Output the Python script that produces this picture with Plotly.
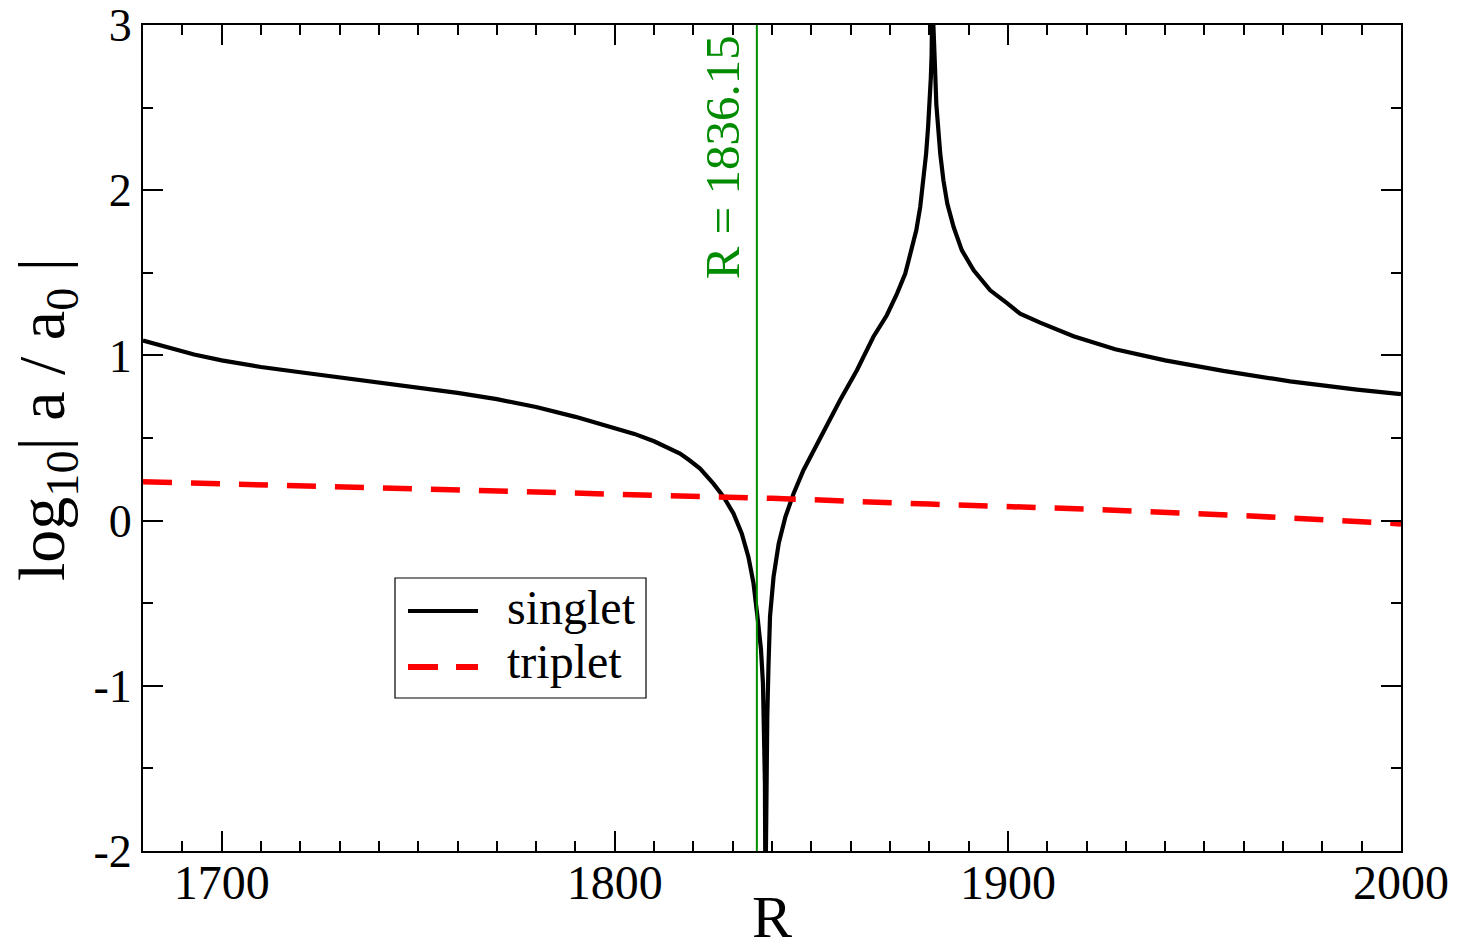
import plotly.graph_objects as go

# ---- data ----
singlet_R = [1680, 1686, 1693, 1700, 1710, 1720, 1730, 1740, 1750, 1760,
             1770, 1780, 1790, 1800, 1805, 1810, 1813, 1816.6, 1819, 1821.7,
             1825.1, 1827.7, 1830.2, 1832.3, 1834.0, 1835.3, 1836.3, 1837.2, 1837.7, 1838.0,
             1838.2, 1838.33, 1838.4, 1838.5, 1838.8, 1839.1, 1839.5, 1840.4, 1841.7, 1843.4,
             1845.5, 1848.0, 1850.6, 1854.0, 1857.3, 1861.6, 1865.8, 1869.2, 1871.8, 1873.9,
             1875.2, 1876.7, 1877.7, 1878.5, 1879.2, 1879.7, 1880.1, 1880.4, 1880.6, 1880.75,
             1880.9, 1881.05, 1881.3, 1881.5, 1881.8, 1882.3, 1882.8, 1883.6, 1884.6, 1886.2,
             1888.3, 1891.3, 1895.5, 1899.7, 1903.1, 1908.2, 1916.7, 1927.3, 1940.0, 1954.8,
             1971.8, 1988.8, 2000]
singlet_log = [1.09, 1.05, 1.005, 0.97, 0.93, 0.898, 0.868, 0.838, 0.807, 0.773,
               0.735, 0.688, 0.628, 0.56, 0.525, 0.48, 0.447, 0.406, 0.365, 0.315,
               0.224, 0.143, 0.043, -0.078, -0.22, -0.38, -0.58, -0.78, -0.985, -1.29,
               -1.59, -2.3, -2.3, -1.59, -1.19, -0.885, -0.58, -0.34, -0.139, 0.022,
               0.164, 0.305, 0.426, 0.577, 0.728, 0.91, 1.113, 1.243, 1.374, 1.495,
               1.616, 1.757, 1.898, 2.06, 2.22, 2.38, 2.52, 2.68, 2.82, 3.0,
               3.4, 3.0, 2.90, 2.72, 2.52, 2.36, 2.22, 2.06, 1.918, 1.777,
               1.636, 1.515, 1.394, 1.318, 1.253, 1.198, 1.116, 1.037, 0.970, 0.906,
               0.843, 0.793, 0.765]

triplet_R = [1680, 1720, 1760, 1800, 1840, 1880, 1920, 1960, 2000]
triplet_log = [0.235, 0.21, 0.19, 0.165, 0.135, 0.10, 0.07, 0.03, -0.02]

R_mark = 1836.15
series_names = ["singlet", "triplet"]

x_tickvals = [1700, 1800, 1900, 2000]
x_ticktext = ["1700", "1800", "1900", "2000"]
y_tickvals = [-2, -1, 0, 1, 2, 3]
y_ticktext = ["-2", "-1", "0", "1", "2", "3"]

FONT = "Liberation Serif, Times New Roman, serif"
GREEN = "rgb(0,139,0)"

fig = go.Figure()
fig.add_trace(go.Scatter(x=singlet_R, y=singlet_log, mode="lines", name=series_names[0],
                         line=dict(color="black", width=4.2), showlegend=False))
fig.add_trace(go.Scatter(x=triplet_R, y=triplet_log, mode="lines", name=series_names[1],
                         line=dict(color="red", width=5.5, dash="29px,19px"), showlegend=False))

# vertical marker line
fig.add_shape(type="line", xref="x", yref="paper", x0=R_mark, x1=R_mark, y0=0, y1=1,
              line=dict(color=GREEN, width=2))
fig.add_annotation(x=R_mark, xref="x", y=1, yref="paper", text=f"R = {R_mark}",
                   textangle=-90, showarrow=False, xanchor="right", yanchor="top",
                   xshift=-5, yshift=-8, font=dict(family=FONT, size=49, color=GREEN))

# custom legend (paper coordinates)
W, H = 1458, 950
L, R_, T, B = 143, 57, 25, 99
pw, ph = W - L - R_, H - T - B
def px(xp):
    return (xp - L) / pw
def py(yp):
    return 1 - (yp - T) / ph

fig.add_shape(type="rect", xref="paper", yref="paper", x0=px(395), x1=px(646), y0=py(698), y1=py(578),
              line=dict(color="black", width=1.2), fillcolor="white", layer="above")
fig.add_shape(type="line", xref="paper", yref="paper", x0=px(408), x1=px(478), y0=py(611), y1=py(611),
              line=dict(color="black", width=4), layer="above")
fig.add_shape(type="line", xref="paper", yref="paper", x0=px(408), x1=px(438), y0=py(667), y1=py(667),
              line=dict(color="red", width=6), layer="above")
fig.add_shape(type="line", xref="paper", yref="paper", x0=px(456), x1=px(478), y0=py(667), y1=py(667),
              line=dict(color="red", width=6), layer="above")
for name, yc in zip(series_names, [607, 661]):
    fig.add_annotation(x=px(505), y=py(yc), xref="paper", yref="paper", text=name, showarrow=False,
                       xanchor="left", yanchor="middle", font=dict(family=FONT, size=48, color="black"))

# y-axis title placed as in the reference
fig.add_annotation(x=px(46), y=py(420), xref="paper", yref="paper",
                   text="log<sub>10</sub>| a / a<sub>0</sub> |", textangle=-90, showarrow=False,
                   xanchor="center", yanchor="middle", font=dict(family=FONT, size=66, color="black"))

axis_common = dict(showline=True, linecolor="black", linewidth=2, mirror="ticks",
                   ticks="inside", ticklen=20, tickwidth=1.8, tickcolor="black",
                   showgrid=False, zeroline=False)

fig.update_xaxes(range=[1680, 2000], tickvals=x_tickvals, ticktext=x_ticktext,
                 ticklabelstandoff=-12,
                 tickfont=dict(family=FONT, size=48, color="black"),
                 minor=dict(ticks="inside", ticklen=10, tickwidth=1.8, tickcolor="black", dtick=10, tick0=1680, showgrid=False),
                 title=dict(text="R", font=dict(family=FONT, size=60, color="black"), standoff=22),
                 **axis_common)
fig.update_yaxes(range=[-2, 3], tickvals=y_tickvals, ticktext=y_ticktext,
                 tickfont=dict(family=FONT, size=46, color="black"),
                 minor=dict(ticks="inside", ticklen=10, tickwidth=1.8, tickcolor="black", dtick=0.5, tick0=0, showgrid=False),
                 **axis_common)

fig.update_layout(width=W, height=H, margin=dict(l=L, r=R_, t=T, b=B, autoexpand=False),
                  plot_bgcolor="white", paper_bgcolor="white", showlegend=False)

fig.write_html("out.html")
